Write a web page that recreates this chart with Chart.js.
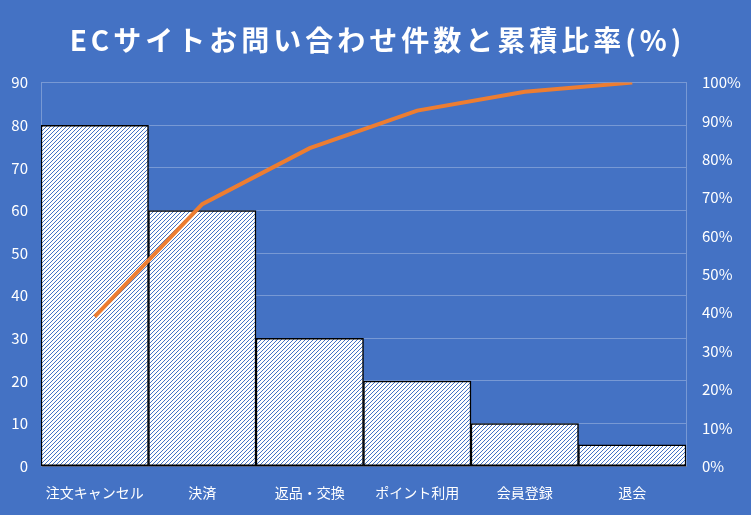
<!DOCTYPE html>
<html lang="ja">
<head>
    <meta charset="UTF-8">
    <title>ECサイトお問い合わせ件数と累積比率(%)</title>
    <script src="https://cdn.jsdelivr.net/npm/chart.js"></script>
    <style>
        html, body {
            margin: 0;
            padding: 0;
            background: #4472C4;
        }
        #wrap {
            width: 751px;
            height: 515px;
        }
    </style>
</head>
<body>
    <div id="wrap"><canvas id="paretoChart"></canvas></div>

    <script>
        // データ
        const categories = ['注文キャンセル', '決済', '返品・交換', 'ポイント利用', '会員登録', '退会'];
        const counts = [80, 60, 30, 20, 10, 5];
        const cumulativeRatio = [0.39, 0.683, 0.829, 0.927, 0.976, 1.0];
        const titleText = 'ECサイトお問い合わせ件数と累積比率(%)';

        const bg = '#4472C4';
        const fontFamily = '"Noto Sans CJK JP", "Noto Sans", sans-serif';
        const gridColor = 'rgba(255, 255, 255, 0.28)';

        // 斜線パターン（白地に青の右上がり線）
        function makeHatch() {
            const c = document.createElement('canvas');
            c.width = 8;
            c.height = 8;
            const ctx = c.getContext('2d');
            ctx.fillStyle = '#ffffff';
            ctx.fillRect(0, 0, 8, 8);
            ctx.fillStyle = bg;
            for (let y = 0; y < 8; y++) {
                for (let x = 0; x < 8; x++) {
                    if ((x + y) % 4 === 0) ctx.fillRect(x, y, 1, 1);
                }
            }
            return ctx.createPattern(c, 'repeat');
        }

        // タイトルは字間を空けて自前で描く
        const spacedTitle = {
            id: 'spacedTitle',
            afterDraw(chart) {
                const ctx = chart.ctx;
                ctx.save();
                ctx.font = 'bold 28px ' + fontFamily;
                ctx.letterSpacing = '4px';
                ctx.fillStyle = '#ffffff';
                ctx.textAlign = 'center';
                ctx.textBaseline = 'middle';
                ctx.fillText(titleText, chart.width / 2 + 2, 40);
                ctx.restore();
            }
        };

        new Chart(document.getElementById('paretoChart'), {
            data: {
                labels: categories,
                datasets: [
                    {
                        type: 'line',
                        label: '累積比率',
                        data: cumulativeRatio,
                        yAxisID: 'y2',
                        borderColor: '#ED7D31',
                        borderWidth: 4,
                        pointRadius: 0,
                        tension: 0,
                        fill: false,
                        order: 0
                    },
                    {
                        type: 'bar',
                        label: '件数',
                        data: counts,
                        yAxisID: 'y',
                        backgroundColor: makeHatch(),
                        borderColor: '#000000',
                        borderWidth: 1.5,
                        borderSkipped: false,
                        categoryPercentage: 1.0,
                        barPercentage: 1.0,
                        order: 1
                    }
                ]
            },
            options: {
                responsive: true,
                maintainAspectRatio: false,
                animation: false,
                layout: {
                    padding: { left: 6, right: 0, top: 8, bottom: 4 }
                },
                plugins: {
                    legend: { display: false },
                    tooltip: { enabled: false },
                    title: {
                        display: true,
                        text: titleText,
                        color: 'rgba(0, 0, 0, 0)',
                        font: { family: fontFamily, size: 28, weight: 'bold' },
                        padding: { top: 10, bottom: 31 }
                    }
                },
                scales: {
                    x: {
                        grid: { display: false },
                        border: { color: 'rgba(60, 60, 80, 0.6)' },
                        ticks: {
                            color: '#ffffff',
                            font: { family: fontFamily, size: 14 },
                            padding: 10,
                            maxRotation: 0
                        }
                    },
                    y: {
                        position: 'left',
                        min: 0,
                        max: 90,
                        afterFit: s => { s.width = 35; },
                        ticks: {
                            stepSize: 10,
                            color: '#ffffff',
                            font: { family: fontFamily, size: 15 },
                            padding: 13
                        },
                        grid: { color: gridColor, drawTicks: false },
                        border: { display: true, color: gridColor }
                    },
                    y2: {
                        position: 'right',
                        min: 0,
                        max: 1,
                        afterFit: s => { s.width = 65; },
                        ticks: {
                            stepSize: 0.1,
                            color: '#ffffff',
                            font: { family: fontFamily, size: 15 },
                            padding: 16,
                            callback: v => Math.round(v * 100) + '%'
                        },
                        grid: { display: false, drawTicks: false },
                        border: { display: true, color: gridColor }
                    }
                }
            },
            plugins: [spacedTitle]
        });
    </script>
</body>
</html>
